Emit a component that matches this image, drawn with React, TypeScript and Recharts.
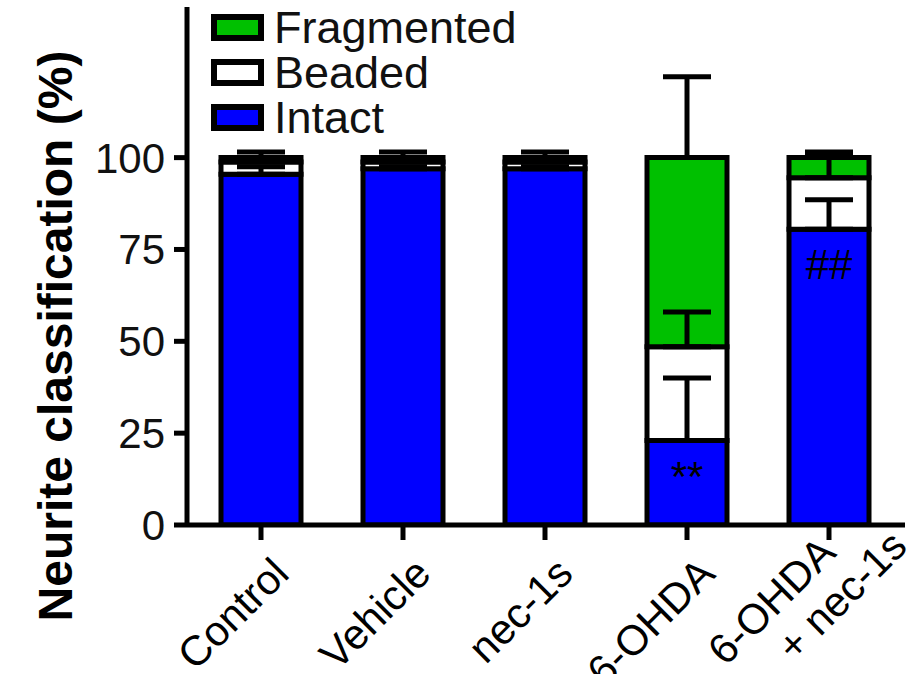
import React from "react";
import {
  Bar,
  ComposedChart,
  ErrorBar,
  LabelList,
  Legend,
  Line,
  XAxis,
  YAxis,
} from "recharts";

const FONT = "'Liberation Sans', Arial, Helvetica, sans-serif";

const categories = ["Control", "Vehicle", "nec-1s", "6-OHDA", "6-OHDA\n+ nec-1s"];
const intact = [95.5, 97, 97, 23, 80.5];
const beaded = [3.3, 1.8, 1.8, 25.5, 14];
const fragmented = [1.2, 1.2, 1.2, 51.5, 5.5];
const intactSd = [2, 0.5, 0.5, 17, 8];
const beadedSd = [1, 0.5, 0.5, 9.5, 6];
const fragmentedSd = [1.5, 1.5, 1.5, 22, 1.5];
const marks = ["", "", "", "**", "##"];
const yTicks = [0, 25, 50, 75, 100];

const seriesNames = ["Intact", "Beaded", "Fragmented"];
const seriesColors = ["#0000ff", "#ffffff", "#00c000"];

const data = categories.map((name, i) => ({
  name,
  intact: intact[i],
  beaded: beaded[i],
  fragmented: fragmented[i],
  intactTop: intact[i],
  beadedTop: intact[i] + beaded[i],
  fragmentedTop: intact[i] + beaded[i] + fragmented[i],
  intactErr: [0, intactSd[i]],
  beadedErr: [0, beadedSd[i]],
  fragmentedErr: [0, fragmentedSd[i]],
  mark: marks[i],
}));

function XTick(props: any) {
  const { x, y, payload } = props;
  const lines = String(payload.value).split("\n");
  const ax = x + 30;
  const ay = y + 34;
  // multi-line labels sit a little higher
  const lift = lines.length > 1 ? -30 : 0;
  return (
    <text
      transform={`rotate(-45 ${ax} ${ay})`}
      textAnchor="end"
      fontSize={42}
      fontFamily={FONT}
      fill="#000"
    >
      {lines.map((line, i) => (
        <tspan key={i} x={ax + i * 55} y={ay + lift + i * 46}>
          {line}
        </tspan>
      ))}
    </text>
  );
}

function renderMark(props: any) {
  const { x, y, width, value } = props;
  if (!value) return null;
  return (
    <text
      x={x + width / 2}
      y={y + 50}
      textAnchor="middle"
      fontSize={42}
      fontFamily={FONT}
      fill="#000"
    >
      {value}
    </text>
  );
}

function renderLegend() {
  const items = seriesNames.map((n, i) => ({ n, c: seriesColors[i] })).reverse();
  return (
    <div style={{ fontFamily: FONT }}>
      {items.map((it) => (
        <div
          key={it.n}
          style={{ display: "flex", alignItems: "center", height: 45 }}
        >
          <div
            style={{
              width: 53,
              height: 27,
              boxSizing: "border-box",
              border: "6px solid #000",
              background: it.c,
              marginRight: 10,
            }}
          />
          <span style={{ fontSize: 45, lineHeight: "45px", color: "#111" }}>{it.n}</span>
        </div>
      ))}
    </div>
  );
}

const yLabel = () => (
  <text
    x={72}
    y={336}
    transform="rotate(-90 72 336)"
    textAnchor="middle"
    fontSize={48}
    fontWeight="bold"
    fontFamily={FONT}
    fill="#000"
  >
    Neurite classification (%)
  </text>
);

const axisStroke = { stroke: "#000", strokeWidth: 5 };

export default function App() {
  return (
    <div style={{ position: "absolute", left: 0, top: 0, width: 910, height: 674, background: "#fff" }}>
      <ComposedChart
        width={910}
        height={674}
        data={data}
        margin={{ top: 7, right: 5, left: 0, bottom: 0 }}
      >
        <XAxis
          dataKey="name"
          interval={0}
          height={149}
          tickSize={15}
          tickMargin={2}
          axisLine={axisStroke}
          tickLine={axisStroke}
          tick={<XTick />}
          padding={{ left: 3, right: 5 }}
        />
        <YAxis
          width={187}
          domain={[0, 141]}
          ticks={yTicks}
          allowDataOverflow
          tickSize={13}
          tickMargin={9}
          axisLine={axisStroke}
          tickLine={axisStroke}
          tick={{ fill: "#111", fontSize: 42, fontFamily: FONT }}
          label={{ content: yLabel }}
        />
        <Legend
          layout="vertical"
          align="center"
          verticalAlign="middle"
          wrapperStyle={{ left: 211, top: 5, width: "auto", height: "auto" }}
          content={renderLegend}
        />
        <Bar dataKey="intact" stackId="a" fill={seriesColors[0]} stroke="#000" strokeWidth={5} barSize={80} isAnimationActive={false}>
          <LabelList dataKey="mark" content={renderMark} />
        </Bar>
        <Bar dataKey="beaded" stackId="a" fill={seriesColors[1]} stroke="#000" strokeWidth={5} barSize={80} isAnimationActive={false} />
        <Bar dataKey="fragmented" stackId="a" fill={seriesColors[2]} stroke="#000" strokeWidth={5} barSize={80} isAnimationActive={false} />
        <Line dataKey="intactTop" stroke="none" dot={false} activeDot={false} legendType="none" isAnimationActive={false}>
          <ErrorBar dataKey="intactErr" direction="y" width={24} stroke="#000" strokeWidth={5} />
        </Line>
        <Line dataKey="beadedTop" stroke="none" dot={false} activeDot={false} legendType="none" isAnimationActive={false}>
          <ErrorBar dataKey="beadedErr" direction="y" width={24} stroke="#000" strokeWidth={5} />
        </Line>
        <Line dataKey="fragmentedTop" stroke="none" dot={false} activeDot={false} legendType="none" isAnimationActive={false}>
          <ErrorBar dataKey="fragmentedErr" direction="y" width={24} stroke="#000" strokeWidth={5} />
        </Line>
      </ComposedChart>
    </div>
  );
}
